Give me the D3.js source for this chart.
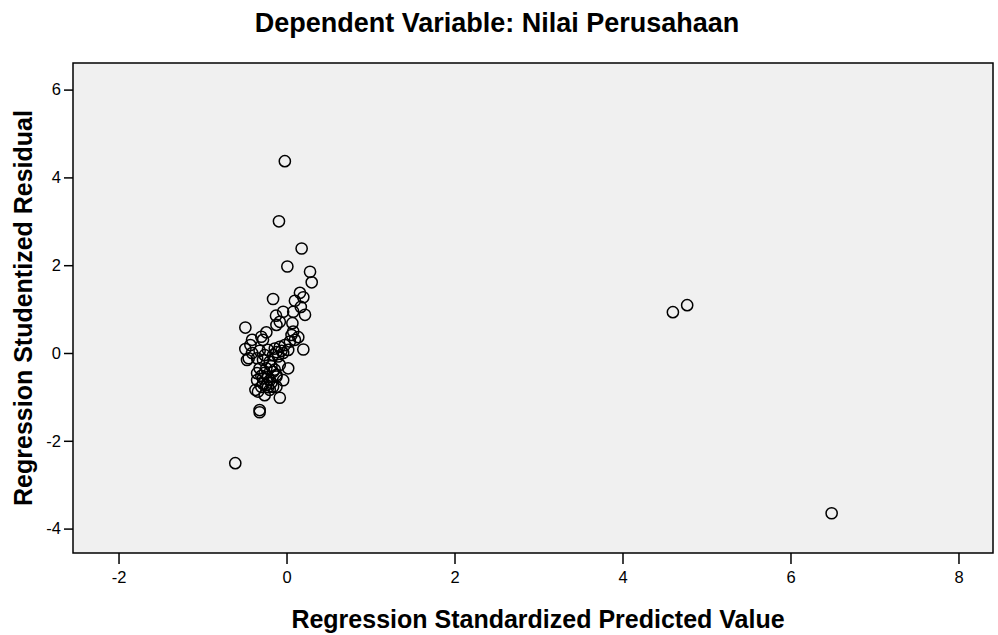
<!DOCTYPE html>
<html>
<head>
<meta charset="utf-8">
<script src="https://cdn.jsdelivr.net/npm/d3@7"></script>
<style>
html,body{margin:0;padding:0;background:#fff;}
svg{display:block;}
</style>
</head>
<body>
<svg id="chart" width="998" height="635"></svg>
<script>
const chartTitle = "Dependent Variable: Nilai Perusahaan";
const xLabel = "Regression Standardized Predicted Value";
const yLabel = "Regression Studentized Residual";
const xTicks = [-2, 0, 2, 4, 6, 8];
const yTicks = [-4, -2, 0, 2, 4, 6];

const predicted = [
  -0.02, -0.09, 0.18, 0.01, 0.28, 0.30,
  -0.16, 0.16, 0.20, 0.10, 0.17, 0.22, 0.08, -0.04, -0.125, -0.08, -0.12, 0.07, 0.08, 0.06,
  -0.49, -0.24, -0.30, -0.41, 0.14, -0.28, -0.49, -0.43, -0.41, -0.45, -0.47, -0.35, -0.32,
  -0.22, -0.14, -0.08, -0.02, 0.04, 0.10, 0.20, 0.02, -0.16, -0.10, -0.04, -0.28, -0.20,
  0.02, -0.32, -0.24, -0.16, -0.35, -0.08, -0.12, -0.35, -0.28, -0.20, -0.12, -0.34, -0.26,
  -0.20, -0.24, -0.16, -0.08, -0.32, -0.32, -0.37, -0.30,
  -0.22, -0.26, -0.18, -0.22, -0.28, -0.18, -0.26, -0.12, -0.30, -0.14, -0.06, -0.04, -0.12,
  -0.61, 4.60, 4.77, 6.49
];
const residual = [
  4.37, 3.00, 2.38, 1.97, 1.85, 1.61,
  1.23, 1.37, 1.27, 1.19, 1.05, 0.87, 0.94, 0.94, 0.85, 0.71, 0.64, 0.68, 0.49, 0.41,
  0.58, 0.47, 0.37, 0.30, 0.36, 0.30, 0.09, 0.18, 0.00, -0.12, -0.16, -0.12, 0.05,
  0.07, 0.10, 0.14, 0.18, 0.26, 0.30, 0.08, 0.07, -0.05, -0.08, 0.00, -0.16, -0.20,
  -0.35, -0.35, -0.35, -0.43, -0.46, -0.27, -0.50, -0.62, -0.58, -0.62, -0.54, -0.88, -0.96,
  -0.84, -0.73, -0.77, -1.02, -1.30, -1.35, -0.84, -0.77,
  -0.55, -0.45, -0.68, -0.78, -0.70, -0.30, -0.05, 0.02, -0.52, -0.38, 0.05, -0.62, -0.77,
  -2.51, 0.93, 1.09, -3.65
];
const points = predicted.map((v, i) => ({x: v, y: residual[i]}));

const svg = d3.select("#chart");
const plot = {left: 73, top: 63, right: 993, bottom: 553};

const x = d3.scaleLinear().domain([-2.542, 8.411]).range([plot.left, plot.right]);
const y = d3.scaleLinear().domain([-4.556, 6.606]).range([plot.bottom, plot.top]);

svg.append("rect")
  .attr("x", plot.left).attr("y", plot.top)
  .attr("width", plot.right - plot.left).attr("height", plot.bottom - plot.top)
  .attr("fill", "#f0f0f0");

const font = "'Liberation Sans', Arial, sans-serif";

const xAxis = svg.append("g")
  .attr("transform", `translate(0,${plot.bottom})`)
  .call(d3.axisBottom(x).tickValues(xTicks).tickSize(11).tickPadding(7).tickFormat(d3.format("d")));
const yAxis = svg.append("g")
  .attr("transform", `translate(${plot.left},0)`)
  .call(d3.axisLeft(y).tickValues(yTicks).tickSize(9).tickPadding(3).tickFormat(d3.format("d")));

[xAxis, yAxis].forEach(g => {
  g.select(".domain").remove();
  g.selectAll(".tick line").attr("stroke", "#000").attr("stroke-width", 1.5);
  g.selectAll(".tick text").attr("fill", "#000")
    .style("font-family", font).style("font-size", "16.5px");
});
yAxis.selectAll(".tick text").text(d => d < 0 ? "-" + Math.abs(d) : d);
xAxis.selectAll(".tick text").text(d => d < 0 ? "-" + Math.abs(d) : d);

svg.append("rect")
  .attr("x", plot.left).attr("y", plot.top)
  .attr("width", plot.right - plot.left).attr("height", plot.bottom - plot.top)
  .attr("fill", "none").attr("stroke", "#000").attr("stroke-width", 1.5);

svg.append("g").selectAll("circle")
  .data(points).join("circle")
  .attr("cx", d => x(d.x)).attr("cy", d => y(d.y))
  .attr("r", 5.6)
  .attr("fill", "none").attr("stroke", "#000").attr("stroke-width", 1.5);

svg.append("text")
  .attr("x", 497).attr("y", 32)
  .attr("text-anchor", "middle")
  .style("font-family", font).style("font-weight", "bold").style("font-size", "27px")
  .text(chartTitle);

svg.append("text")
  .attr("x", 538).attr("y", 628)
  .attr("text-anchor", "middle")
  .style("font-family", font).style("font-weight", "bold").style("font-size", "25px")
  .text(xLabel);

svg.append("text")
  .attr("transform", `translate(32,${(plot.top + plot.bottom) / 2}) rotate(-90)`)
  .attr("text-anchor", "middle")
  .style("font-family", font).style("font-weight", "bold").style("font-size", "25px")
  .text(yLabel);
</script>
</body>
</html>
